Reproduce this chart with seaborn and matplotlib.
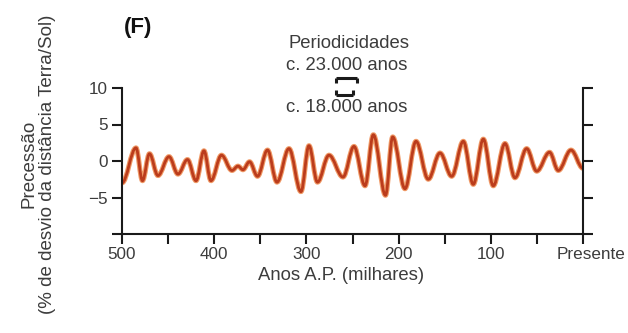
import numpy as np
import matplotlib
matplotlib.use("Agg")
import matplotlib.pyplot as plt
import matplotlib.transforms as mtransforms
from matplotlib.path import Path
from matplotlib.patches import PathPatch
import seaborn as sns

# Precession index: successive turning points (age in kyr BP, % deviation)
AGES = [500, 484.8, 477.8, 470.2, 461.0, 449.0, 439.3, 429.0, 419.7, 411.1,
        403.5, 392.1, 380.7, 374.2, 368.8, 361.7, 353.0, 342.2, 331.9, 318.9,
        305.9, 297.2, 288.0, 275.5, 260.3, 248.4, 236.4, 227.4, 214.2, 206.4,
        193.1, 181.1, 167.8, 155.1, 142.4, 129.8, 119.0, 108.1, 97.3, 84.6,
        73.8, 61.1, 50.2, 36.3, 26.8, 13.0, 0]
VALUES = [-3.0, 1.8, -2.7, 1.0, -2.0, 0.6, -1.8, 0.2, -2.7, 1.4,
          -2.7, 0.8, -1.3, -0.7, -1.2, -0.1, -2.1, 1.5, -2.9, 1.7,
          -4.2, 2.1, -2.9, 0.8, -2.2, 2.0, -3.4, 3.6, -4.7, 3.3,
          -3.8, 2.7, -2.5, 1.1, -2.1, 2.7, -3.2, 3.0, -3.4, 2.4,
          -2.3, 1.7, -1.4, 1.2, -1.3, 1.5, -1.0]

MAJOR_TICKS = [500, 400, 300, 200, 100, 0]
MAJOR_LABELS = ["500", "400", "300", "200", "100", "Presente"]
MINOR_TICKS = [450, 350, 250, 150, 50]
Y_TICKS = [-10, -5, 0, 5, 10]
Y_LABELS = ["", "\u22125", "0", "5", "10"]

# Periodicity scale bars (kyr)
PERIODS = [23, 18]

sns.set_theme(style="ticks")
plt.rcParams["font.family"] = ["Liberation Sans", "DejaVu Sans"]

W, H = 628, 333
fig = plt.figure(figsize=(W / 100, H / 100), dpi=100)
ax = fig.add_axes([122 / W, 1 - 234 / H, (583 - 122) / W, (234 - 88) / H])

ax.set_xlim(500, 0)
ax.set_ylim(-10, 10)

# Smooth curve through the turning points (horizontal tangents at each)
k = 0.364
verts = [(AGES[0], VALUES[0])]
codes = [Path.MOVETO]
for (x0, y0), (x1, y1) in zip(zip(AGES[:-1], VALUES[:-1]), zip(AGES[1:], VALUES[1:])):
    dx = x1 - x0
    verts += [(x0 + k * dx, y0), (x1 - k * dx, y1), (x1, y1)]
    codes += [Path.CURVE4] * 3
curve = Path(verts, codes)
ax.add_patch(PathPatch(curve, facecolor="none", edgecolor="#ec8040",
                       lw=3.6, alpha=0.8, capstyle="round", joinstyle="round"))
ax.add_patch(PathPatch(curve, facecolor="none", edgecolor="#bb3c1c",
                       lw=2.0, capstyle="round", joinstyle="round"))

ink = "#1a1a1a"
txt = "#3c3c3c"
for side in ["left", "bottom", "right"]:
    ax.spines[side].set_color(ink)
    ax.spines[side].set_linewidth(1.5)
sns.despine(ax=ax, top=True, right=False)

ax.set_xticks(MAJOR_TICKS)
ax.set_xticklabels(MAJOR_LABELS)
ax.set_xticks(MINOR_TICKS, minor=True)
ax.set_yticks(Y_TICKS)
ax.set_yticklabels(Y_LABELS)
ax.tick_params(axis="both", which="both", direction="out", length=7.5,
               width=1.5, color=ink, labelsize=12.3, labelcolor=txt)
ax.tick_params(axis="x", pad=2.0)
ax.tick_params(axis="y", right=True, labelright=False, pad=3.0)
ax.set_facecolor("white")
ax.grid(False)

# "Presente" sits a little to the right of its tick
last = ax.get_xticklabels()[-1]
last.set_transform(last.get_transform() +
                   mtransforms.ScaledTranslation(8 / 100, 0, fig.dpi_scale_trans))

# Periodicity scale bars above the plot
left_age = 268
bar_y = [11.4, 9.0]
cap_dir = [-1, 1]
for period, yb, cd in zip(PERIODS, bar_y, cap_dir):
    x_end = left_age - period
    ax.plot([left_age, x_end], [yb, yb], color=ink, lw=2.2, clip_on=False,
            solid_capstyle="butt")
    for xc in (left_age, x_end):
        ax.plot([xc, xc], [yb, yb + cd * 0.75], color=ink, lw=2.2,
                clip_on=False, solid_capstyle="butt")

fig.text(349 / W, 1 - 44 / H, "Periodicidades", ha="center", va="center",
         fontsize=13.3, color=txt)
fig.text(347 / W, 1 - 66 / H, "c. 23.000 anos", ha="center", va="center",
         fontsize=13.3, color=txt)
fig.text(347 / W, 1 - 108 / H, "c. 18.000 anos", ha="center", va="center",
         fontsize=13.3, color=txt)

fig.text(138 / W, 1 - 28 / H, "(F)", ha="center", va="center",
         fontsize=16, fontweight="bold", color="#111111")

fig.text(341 / W, 1 - 275 / H, "Anos A.P. (milhares)", ha="center",
         va="center", fontsize=13.3, color=txt)
fig.text(38 / W, 1 - 164 / H, "Precessão\n(% de desvio da distância Terra/Sol)",
         ha="center", va="center", rotation=90, multialignment="center",
         fontsize=13.5, color=txt, linespacing=1.1)

fig.savefig("out.png", dpi=100, facecolor="white")
